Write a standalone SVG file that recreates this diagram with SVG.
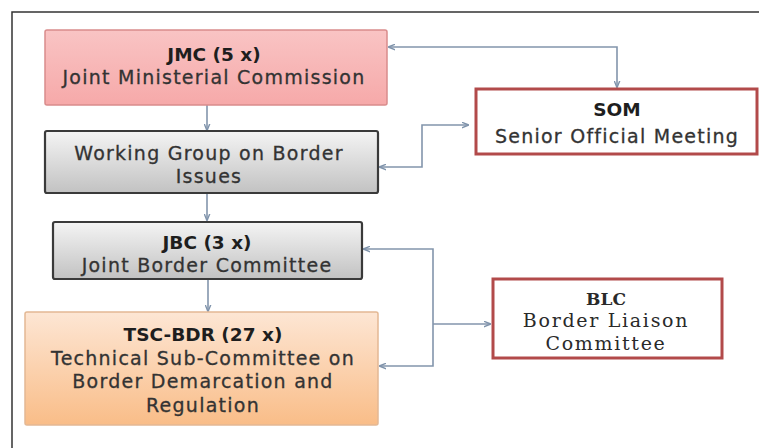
<svg xmlns="http://www.w3.org/2000/svg" width="759" height="448" viewBox="0 0 759 448">
  <defs>
    <linearGradient id="gPink" x1="0" y1="0" x2="0" y2="1">
      <stop offset="0" stop-color="#f9c4c4"/>
      <stop offset="1" stop-color="#f6a9a9"/>
    </linearGradient>
    <linearGradient id="gGray" x1="0" y1="0" x2="0" y2="1">
      <stop offset="0" stop-color="#f4f4f4"/>
      <stop offset="1" stop-color="#c2c2c2"/>
    </linearGradient>
    <linearGradient id="gOrange" x1="0" y1="0" x2="0" y2="1">
      <stop offset="0" stop-color="#fde6d4"/>
      <stop offset="1" stop-color="#f9bd88"/>
    </linearGradient>
    <marker id="arr" viewBox="0 0 10 10" refX="9" refY="5" markerWidth="7" markerHeight="7" orient="auto-start-reverse" markerUnits="userSpaceOnUse">
      <path d="M0,1 L10,5 L0,9" fill="none" stroke="#7f93ab" stroke-width="2"/>
    </marker>
    <style>
      .t { font-family: "DejaVu Sans", "Liberation Sans", sans-serif; font-size: 19px; letter-spacing: 1.25px; fill: #333333; stroke: #333333; stroke-width: 0.3px; text-anchor: middle; }
      .b { font-weight: 700; font-size: 18.5px; letter-spacing: 0; fill: #1e1e1e; stroke: none; }
      .s { font-family: "DejaVu Serif", "Liberation Serif", serif; font-size: 19px; letter-spacing: 1.7px; fill: #2a2a2a; text-anchor: middle; }
      .sb { font-weight: 700; font-size: 17px; letter-spacing: 0; }
      .conn { fill: none; stroke: #8395ac; stroke-width: 1.6; }
      .gray { fill: url(#gGray); stroke: #3a3a3a; stroke-width: 2.2; }
      .red { fill: #ffffff; stroke: #b24a4a; stroke-width: 3; }
    </style>
  </defs>
  <rect width="759" height="448" fill="#ffffff"/>
  <path d="M12,448 L12,12 L759,12" fill="none" stroke="#333333" stroke-width="1.5"/>

  <g id="connectors">
    <line class="conn" x1="207" y1="105" x2="207" y2="130" marker-end="url(#arr)"/>
    <line class="conn" x1="207" y1="193" x2="207" y2="220" marker-end="url(#arr)"/>
    <line class="conn" x1="208" y1="279" x2="208" y2="311" marker-end="url(#arr)"/>
    <path class="conn" d="M389,47 L617,47 L617,87" marker-start="url(#arr)" marker-end="url(#arr)"/>
    <path class="conn" d="M380,167 L422,167 L422,125 L468,125" marker-start="url(#arr)" marker-end="url(#arr)"/>
    <path class="conn" d="M364,249 L433,249 L433,366 L380,366" marker-start="url(#arr)" marker-end="url(#arr)"/>
    <line class="conn" x1="433" y1="324" x2="490" y2="324" marker-end="url(#arr)"/>
  </g>

  <g id="jmc">
    <rect x="45" y="30" width="342" height="75" rx="2" fill="url(#gPink)" stroke="#d98c8c" stroke-width="1.5"/>
    <text class="t b" x="214" y="61">JMC (5 x)</text>
    <text class="t" x="214" y="84">Joint Ministerial Commission</text>
  </g>

  <g id="wg">
    <rect class="gray" x="45" y="131" width="333" height="62" rx="2"/>
    <text class="t" x="209" y="160">Working Group on Border</text>
    <text class="t" x="209" y="183">Issues</text>
  </g>

  <g id="jbc">
    <rect class="gray" x="53" y="222" width="309" height="57" rx="2"/>
    <text class="t b" x="207" y="248.5">JBC (3 x)</text>
    <text class="t" x="207" y="271.5">Joint Border Committee</text>
  </g>

  <g id="tsc">
    <rect x="25" y="312" width="353" height="113" rx="2" fill="url(#gOrange)" stroke="#e3b894" stroke-width="1.5"/>
    <text class="t b" x="203" y="341">TSC-BDR (27 x)</text>
    <text class="t" x="203" y="364.5">Technical Sub-Committee on</text>
    <text class="t" x="203" y="388">Border Demarcation and</text>
    <text class="t" x="203" y="411.5">Regulation</text>
  </g>

  <g id="som">
    <rect class="red" x="476" y="89" width="281" height="65"/>
    <text class="t b" x="617" y="116">SOM</text>
    <text class="t" x="617" y="143">Senior Official Meeting</text>
  </g>

  <g id="blc">
    <rect class="red" x="493" y="279" width="229" height="79"/>
    <text class="s sb" x="606" y="304.5">BLC</text>
    <text class="s" x="606" y="327">Border Liaison</text>
    <text class="s" x="606" y="349.5">Committee</text>
  </g>
</svg>
